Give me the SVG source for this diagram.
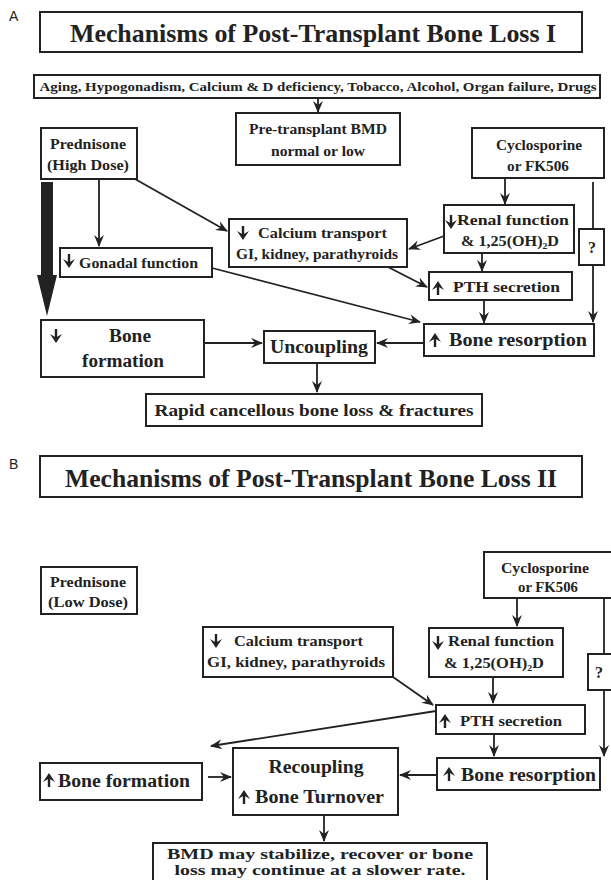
<svg xmlns="http://www.w3.org/2000/svg" width="611" height="880" viewBox="0 0 611 880">
<style>
.b{fill:#fff;stroke:#222;stroke-width:2}
.t{font-family:"Liberation Serif","Times New Roman",serif;font-weight:bold;fill:#222}
.c{text-anchor:middle}
.l{font-family:"Liberation Sans",Arial,sans-serif;fill:#222;font-size:14px}
.e{fill:none;stroke:#222;stroke-width:1.8}
</style>
<defs>
<marker id="ah" viewBox="0 0 12 10" refX="11" refY="5" markerWidth="12" markerHeight="10" markerUnits="userSpaceOnUse" orient="auto">
<path d="M0,0 L12,5 L0,10 L4,5 Z" fill="#222"/>
</marker>
<g id="dn"><path d="M0,-7 V4" stroke="#222" stroke-width="2.4"/><path d="M-6,-2 L0,7 L6,-2 L0,1.5 Z" fill="#222"/></g>
<g id="up"><path d="M0,7 V-4" stroke="#222" stroke-width="2.4"/><path d="M-6,2 L0,-7 L6,2 L0,-1.5 Z" fill="#222"/></g>
</defs>
<rect width="611" height="880" fill="#fff"/>

<!-- Panel A -->
<text class="l" x="9" y="21">A</text>
<g id="titleA"><rect class="b" x="40" y="12" width="542" height="40"/><text class="t c" x="313" y="42" font-size="26" textLength="486" lengthAdjust="spacingAndGlyphs">Mechanisms of Post-Transplant Bone Loss I</text></g>
<g id="agingA"><rect class="b" x="34" y="75" width="566" height="23"/><text class="t c" x="318" y="91" font-size="12.5" textLength="557" lengthAdjust="spacingAndGlyphs">Aging, Hypogonadism, Calcium &amp; D deficiency, Tobacco, Alcohol, Organ failure, Drugs</text></g>
<g id="pretxA"><rect class="b" x="236" y="113" width="164" height="52"/><text class="t c" x="318" y="134" font-size="15" textLength="138" lengthAdjust="spacingAndGlyphs">Pre-transplant BMD</text><text class="t c" x="318" y="156" font-size="15" textLength="94" lengthAdjust="spacingAndGlyphs">normal or low</text></g>
<g id="predA"><rect class="b" x="41" y="128" width="96" height="51"/><text class="t c" x="88" y="149" font-size="15" textLength="76" lengthAdjust="spacingAndGlyphs">Prednisone</text><text class="t c" x="88" y="170" font-size="15" textLength="82" lengthAdjust="spacingAndGlyphs">(High Dose)</text></g>
<g id="cycA"><rect class="b" x="472" y="128" width="132" height="50"/><text class="t c" x="539" y="150" font-size="15" textLength="86" lengthAdjust="spacingAndGlyphs">Cyclosporine</text><text class="t c" x="538" y="171" font-size="15" textLength="62" lengthAdjust="spacingAndGlyphs">or FK506</text></g>
<g id="renalA"><rect class="b" x="444" y="205" width="130" height="48"/><use href="#dn" x="451" y="222"/><text class="t" x="457" y="225" font-size="15" textLength="112" lengthAdjust="spacingAndGlyphs">Renal function</text><text class="t" x="461" y="246" font-size="15" textLength="98" lengthAdjust="spacingAndGlyphs">&amp; 1,25(OH)<tspan font-size="9" dy="3">2</tspan><tspan dy="-3">D</tspan></text></g>
<g id="calcA"><rect class="b" x="229" y="219" width="178" height="48"/><use href="#dn" x="243" y="233"/><text class="t" x="258" y="238" font-size="15" textLength="129" lengthAdjust="spacingAndGlyphs">Calcium transport</text><text class="t" x="236" y="259" font-size="15" textLength="162" lengthAdjust="spacingAndGlyphs">GI, kidney, parathyroids</text></g>
<g id="gonadA"><rect class="b" x="60" y="248" width="152" height="29"/><use href="#dn" x="69" y="261"/><text class="t" x="79" y="268" font-size="15" textLength="119" lengthAdjust="spacingAndGlyphs">Gonadal function</text></g>
<g id="pthA"><rect class="b" x="429" y="272" width="143" height="28"/><use href="#up" x="438" y="288"/><text class="t" x="453" y="292" font-size="14.5" textLength="107" lengthAdjust="spacingAndGlyphs">PTH secretion</text></g>
<g id="qA"><rect class="b" x="579" y="229" width="25" height="36"/><text class="t c" x="592" y="253" font-size="16">?</text></g>
<g id="resA"><rect class="b" x="424" y="324" width="170" height="32"/><use href="#up" x="435" y="340"/><text class="t" x="449" y="346" font-size="18" textLength="138" lengthAdjust="spacingAndGlyphs">Bone resorption</text></g>
<g id="formA"><rect class="b" x="41" y="320" width="163" height="57"/><use href="#dn" x="56" y="336"/><text class="t c" x="130" y="342" font-size="18" textLength="42" lengthAdjust="spacingAndGlyphs">Bone</text><text class="t c" x="123" y="367" font-size="18" textLength="82" lengthAdjust="spacingAndGlyphs">formation</text></g>
<g id="uncA"><rect class="b" x="264" y="331" width="111" height="32"/><text class="t c" x="319" y="353" font-size="18" textLength="98" lengthAdjust="spacingAndGlyphs">Uncoupling</text></g>
<g id="rapidA"><rect class="b" x="146" y="394" width="336" height="32"/><text class="t c" x="314" y="416" font-size="17" textLength="319" lengthAdjust="spacingAndGlyphs">Rapid cancellous bone loss &amp; fractures</text></g>

<g id="connectorsA">
<path class="e" d="M318,98 V112" marker-end="url(#ah)"/>
<path d="M41,182 H53 V275 H57 L47,316 L37,275 H41 Z" fill="#222"/>
<path class="e" d="M99,179 V246" marker-end="url(#ah)"/>
<path class="e" d="M135,179 L227,231" marker-end="url(#ah)"/>
<path class="e" d="M505,178 V204" marker-end="url(#ah)"/>
<path class="e" d="M444,236 L409,249" marker-end="url(#ah)"/>
<path class="e" d="M482,253 V271" marker-end="url(#ah)"/>
<path class="e" d="M388,267 L427,287" marker-end="url(#ah)"/>
<path class="e" d="M212,268 L420,322" marker-end="url(#ah)"/>
<path class="e" d="M484,300 V323" marker-end="url(#ah)"/>
<path class="e" d="M593,182 V229"/>
<path class="e" d="M593,265 V322" marker-end="url(#ah)"/>
<path class="e" d="M204,343 H262" marker-end="url(#ah)"/>
<path class="e" d="M424,343 H377" marker-end="url(#ah)"/>
<path class="e" d="M317,363 V392" marker-end="url(#ah)"/>
</g>

<!-- Panel B -->
<text class="l" x="9" y="469">B</text>
<g id="titleB"><rect class="b" x="40" y="456" width="542" height="41"/><text class="t c" x="311" y="487" font-size="26" textLength="492" lengthAdjust="spacingAndGlyphs">Mechanisms of Post-Transplant Bone Loss II</text></g>
<g id="predB"><rect class="b" x="41" y="567" width="96" height="47"/><text class="t c" x="88" y="587" font-size="15" textLength="76" lengthAdjust="spacingAndGlyphs">Prednisone</text><text class="t c" x="88" y="607" font-size="15" textLength="80" lengthAdjust="spacingAndGlyphs">(Low Dose)</text></g>
<g id="cycB"><rect class="b" x="484" y="552" width="130" height="46"/><text class="t c" x="545" y="573" font-size="15" textLength="88" lengthAdjust="spacingAndGlyphs">Cyclosporine</text><text class="t c" x="548" y="592" font-size="15" textLength="60" lengthAdjust="spacingAndGlyphs">or FK506</text></g>
<g id="calcB"><rect class="b" x="203" y="627" width="190" height="50"/><use href="#dn" x="216" y="641"/><text class="t" x="234" y="646" font-size="15" textLength="129" lengthAdjust="spacingAndGlyphs">Calcium transport</text><text class="t" x="207" y="667" font-size="15" textLength="178" lengthAdjust="spacingAndGlyphs">GI, kidney, parathyroids</text></g>
<g id="renalB"><rect class="b" x="429" y="628" width="134" height="49"/><use href="#dn" x="438" y="643"/><text class="t" x="448" y="646" font-size="15" textLength="106" lengthAdjust="spacingAndGlyphs">Renal function</text><text class="t" x="444" y="668" font-size="15" textLength="100" lengthAdjust="spacingAndGlyphs">&amp; 1,25(OH)<tspan font-size="9" dy="3">2</tspan><tspan dy="-3">D</tspan></text></g>
<g id="qB"><rect class="b" x="588" y="654" width="26" height="36"/><text class="t c" x="599" y="678" font-size="16">?</text></g>
<g id="pthB"><rect class="b" x="436" y="705" width="149" height="29"/><use href="#up" x="445" y="721"/><text class="t" x="460" y="726" font-size="14.5" textLength="102" lengthAdjust="spacingAndGlyphs">PTH secretion</text></g>
<g id="resB"><rect class="b" x="437" y="758" width="163" height="32"/><use href="#up" x="449" y="774"/><text class="t" x="461" y="781" font-size="18" textLength="135" lengthAdjust="spacingAndGlyphs">Bone resorption</text></g>
<g id="recB"><rect class="b" x="233" y="748" width="165" height="67"/><text class="t c" x="316" y="773" font-size="18" textLength="95" lengthAdjust="spacingAndGlyphs">Recoupling</text><use href="#up" x="244" y="797"/><text class="t" x="255" y="803" font-size="18" textLength="129" lengthAdjust="spacingAndGlyphs">Bone Turnover</text></g>
<g id="formB"><rect class="b" x="40" y="763" width="162" height="37"/><use href="#up" x="49" y="780"/><text class="t" x="58" y="787" font-size="18" textLength="132" lengthAdjust="spacingAndGlyphs">Bone formation</text></g>
<g id="bmdB"><rect class="b" x="153" y="843" width="334" height="45"/><text class="t c" x="320" y="859" font-size="15" textLength="306" lengthAdjust="spacingAndGlyphs">BMD may stabilize, recover or bone</text><text class="t c" x="320" y="875" font-size="15" textLength="291" lengthAdjust="spacingAndGlyphs">loss may continue at a slower rate.</text></g>

<g id="connectorsB">
<path class="e" d="M517,598 V626" marker-end="url(#ah)"/>
<path class="e" d="M604,598 V654"/>
<path class="e" d="M604,690 V756" marker-end="url(#ah)"/>
<path class="e" d="M393,677 L433,705" marker-end="url(#ah)"/>
<path class="e" d="M493,677 V703" marker-end="url(#ah)"/>
<path class="e" d="M436,711 L211,746" marker-end="url(#ah)"/>
<path class="e" d="M494,734 V756" marker-end="url(#ah)"/>
<path class="e" d="M437,775 H400" marker-end="url(#ah)"/>
<path class="e" d="M208,777 H231" marker-end="url(#ah)"/>
<path class="e" d="M324,815 V841" marker-end="url(#ah)"/>
</g>
</svg>
